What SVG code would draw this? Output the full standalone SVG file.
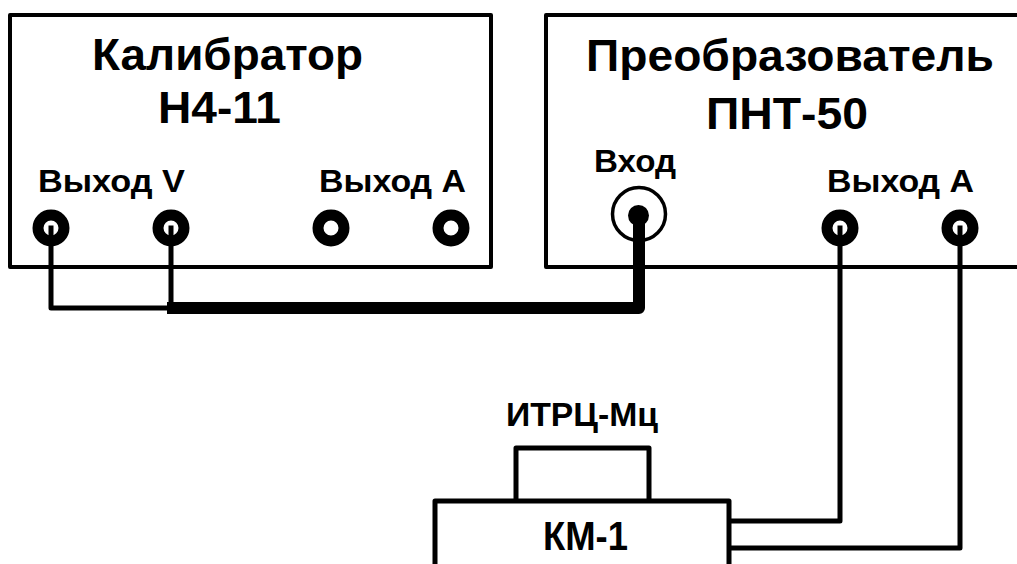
<svg xmlns="http://www.w3.org/2000/svg" width="1017" height="564" viewBox="0 0 1017 564">
<style>
.l{fill:none;stroke:#000;stroke-linejoin:round;stroke-linecap:square}
.t{font-family:"Liberation Sans",Arial,sans-serif;font-weight:700;fill:#000}
.h{font-size:45px}
.s{font-size:31px}
.j{fill:#fff;stroke:#000;stroke-width:11px}
</style>
<rect width="1017" height="564" fill="#fff"/>
<g id="calibrator">
<rect class="l" stroke-width="4" x="10" y="15" width="481" height="252"/>
<text class="t h" x="92" y="70" textLength="271" lengthAdjust="spacingAndGlyphs">Калибратор</text>
<text class="t h" x="158" y="123" textLength="123" lengthAdjust="spacingAndGlyphs">Н4-11</text>
<text class="t s" x="38" y="192" textLength="147" lengthAdjust="spacingAndGlyphs">Выход V</text>
<text class="t s" x="319" y="192" textLength="147" lengthAdjust="spacingAndGlyphs">Выход А</text>
<circle class="j" cx="51" cy="228" r="13"/>
<circle class="j" cx="171" cy="228" r="13"/>
<circle class="j" cx="331" cy="228" r="13"/>
<circle class="j" cx="451" cy="228" r="13"/>
</g>
<g id="converter">
<path class="l" stroke-width="4" d="M1019 15H546V267H1019"/>
<text class="t h" x="586" y="71" textLength="408" lengthAdjust="spacingAndGlyphs">Преобразователь</text>
<text class="t h" x="706" y="129" textLength="162" lengthAdjust="spacingAndGlyphs">ПНТ-50</text>
<text class="t s" x="594" y="172" textLength="82" lengthAdjust="spacingAndGlyphs">Вход</text>
<text class="t s" x="827" y="192" textLength="147" lengthAdjust="spacingAndGlyphs">Выход А</text>
<circle cx="639" cy="214" r="26.5" fill="#fff" stroke="#000" stroke-width="3.5"/>
<circle class="j" cx="840" cy="228" r="13"/>
<circle class="j" cx="960" cy="228" r="13"/>
</g>
<g id="km1">
<path class="l" stroke-width="5" d="M435 567V501H729V567"/>
<text class="t" x="543" y="550" font-size="41" textLength="85" lengthAdjust="spacingAndGlyphs">КМ-1</text>
</g>
<g id="itrc">
<path class="l" stroke-width="5" d="M516 499V448H649V499"/>
<text class="t" x="506" y="426" font-size="34" textLength="152" lengthAdjust="spacingAndGlyphs">ИТРЦ-Мц</text>
</g>
<g id="connectors">
<path class="l" stroke-width="5" d="M51 228V308H171V228"/>
<path class="l" stroke-width="5" d="M840 228V521H732"/>
<path class="l" stroke-width="5" d="M960 228V548H732"/>
<path class="l" stroke-width="12" d="M173 308H639V217"/>
<circle cx="638.5" cy="215.5" r="10.5" fill="#000"/>
</g>
</svg>
